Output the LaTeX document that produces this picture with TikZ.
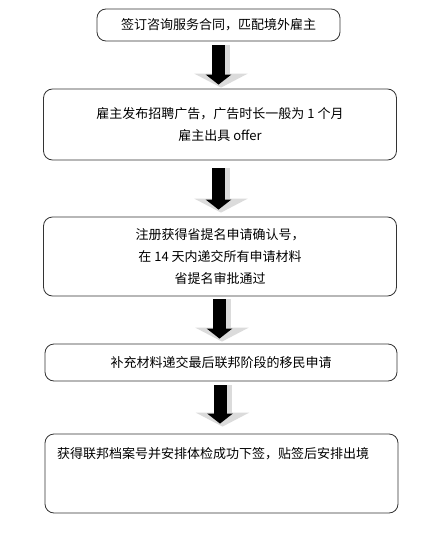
\documentclass[tikz,border=0pt]{standalone}
\usepackage{fontspec}
\newfontfamily\cjk{Noto Sans CJK SC}
\usetikzlibrary{arrows.meta}
\tikzset{
  stepbox/.style={draw=black!80, line width=0.8pt, rounded corners=9pt, align=center, inner sep=0pt,
    font=\cjk\fontsize{13}{22}\selectfont},
  shadearrow/.style={draw=gray!28, line width=18pt, -{Triangle[width=53pt,length=14pt]},
    transform canvas={xshift=1pt}},
  blackarrow/.style={draw=black, line width=13pt, -{Triangle[width=25pt,length=10pt]},
    transform canvas={xshift=-1.5pt}},
}
% block arrow between two boxes: from, to, gap at start, gap at tip
\newcommand{\flowarrow}[4]{%
  \draw[shadearrow, shorten <=#3, shorten >=#4] (#1.south -| #2.north) -- (#2.north);
  \draw[blackarrow, shorten <=#3, shorten >=#4+3pt] (#1.south -| #2.north) -- (#2.north);
}
\begin{document}
\begin{tikzpicture}[x=1pt, y=-1pt]
  \useasboundingbox (0,0) rectangle (444,535);
  \node[stepbox, minimum width=243pt, minimum height=32pt] (sign) at (218.5,25)
    {签订咨询服务合同，匹配境外雇主};
  \node[stepbox, minimum width=353pt, minimum height=71pt] (offer) at (220,124.5)
    {雇主发布招聘广告，广告时长一般为 1 个月\\雇主出具 offer};
  \node[stepbox, minimum width=353pt, minimum height=79pt] (nominate) at (220,256.5)
    {注册获得省提名申请确认号，\\在 14 天内递交所有申请材料\\省提名审批通过};
  \node[stepbox, minimum width=352pt, minimum height=37pt] (federal) at (221,362.5)
    {补充材料递交最后联邦阶段的移民申请};
  \node[stepbox, text width=329pt, align=left, inner xsep=12pt, text height=24pt, text depth=55pt] (visa) at (221.5,473.5)
    {获得联邦档案号并安排体检成功下签，贴签后安排出境};
  \flowarrow{sign}{offer}{4pt}{1pt}
  \flowarrow{offer}{nominate}{8pt}{4pt}
  \flowarrow{nominate}{federal}{3pt}{2pt}
  \flowarrow{federal}{visa}{4pt}{7pt}
\end{tikzpicture}
\end{document}
